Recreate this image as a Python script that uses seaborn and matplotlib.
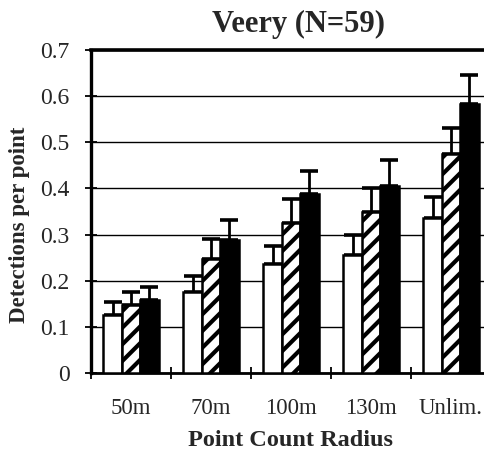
import matplotlib
matplotlib.use("Agg")
import matplotlib.pyplot as plt
import numpy as np
import pandas as pd
import seaborn as sns
from matplotlib.ticker import FixedLocator

# Detections per point by count radius, three count periods
radii = ["50m", "70m", "100m", "130m", "Unlim."]
periods = ["Period 1", "Period 2", "Period 3"]
means_p1 = [0.125, 0.176, 0.236, 0.255, 0.336]
means_p2 = [0.147, 0.246, 0.325, 0.348, 0.475]
means_p3 = [0.158, 0.288, 0.387, 0.405, 0.584]
se_p1 = [0.029, 0.034, 0.039, 0.044, 0.046]
se_p2 = [0.029, 0.045, 0.053, 0.052, 0.057]
se_p3 = [0.029, 0.043, 0.051, 0.056, 0.061]
y_ticks = [0, 0.1, 0.2, 0.3, 0.4, 0.5, 0.6, 0.7]
y_tick_labels = ["0", "0.1", "0.2", "0.3", "0.4", "0.5", "0.6", "0.7"]

df = pd.DataFrame({
    "radius": radii * 3,
    "period": sum([[p] * len(radii) for p in periods], []),
    "mean": means_p1 + means_p2 + means_p3,
    "se": se_p1 + se_p2 + se_p3,
})

sns.set_theme(style="white")
plt.rcParams["font.family"] = ["Liberation Serif", "DejaVu Serif"]
plt.rcParams["hatch.linewidth"] = 3.0

fig = plt.figure(figsize=(4.84, 4.51), dpi=100)
ax = fig.add_axes([91 / 484, 78 / 451, 400 / 484, 323 / 451])

sns.barplot(data=df, x="radius", y="mean", hue="period", order=radii,
            hue_order=periods, palette=["white", "white", "black"],
            width=0.69, errorbar=None, legend=False, ax=ax,
            edgecolor="black", linewidth=1.8, zorder=3)

# bars are ordered by hue then category
n = len(radii)
for i, bar in enumerate(ax.patches[:3 * n]):
    hue_idx = i // n
    cat_idx = i % n
    if hue_idx == 1:
        bar.set_hatch("//")
    m = df["mean"].iloc[hue_idx * n + cat_idx]
    s = df["se"].iloc[hue_idx * n + cat_idx]
    xc = bar.get_x() + bar.get_width() / 2
    ax.errorbar([xc], [m], yerr=[[0], [s]], fmt="none", ecolor="black",
                elinewidth=2.0, capsize=6.5, capthick=2.6, zorder=2)

ax.set_xlim(-0.5, 4.5)
ax.set_ylim(0, 0.7)
ax.set_yticks(y_ticks)
ax.set_yticklabels(y_tick_labels)
ax.yaxis.grid(True, color="black", linewidth=1.0, zorder=0)
ax.set_axisbelow(True)

ax.xaxis.set_minor_locator(FixedLocator(np.arange(-0.5, 5.0, 1.0)))
ax.tick_params(axis="x", which="major", length=0, pad=18, labelsize=16.5)
ax.tick_params(axis="x", which="minor", direction="inout", length=9,
               width=1.3, color="black", bottom=True)
ax.tick_params(axis="y", which="major", direction="inout", length=9,
               width=1.3, color="black", left=True, pad=11, labelsize=17)

for side in ["left", "bottom", "top"]:
    ax.spines[side].set_visible(True)
    ax.spines[side].set_color("black")
ax.spines["left"].set_linewidth(2.4)
ax.spines["bottom"].set_linewidth(2.0)
ax.spines["top"].set_linewidth(2.6)
ax.spines["right"].set_visible(False)

ax.set_xlabel("")
ax.set_ylabel("")
fig.text(290 / 484, 1 - 440 / 451, "Point Count Radius", ha="center",
         va="center", fontsize=17.5, fontweight="bold")
fig.text(20 / 484, 1 - 225 / 451, "Detections per point", ha="center",
         va="center", rotation=90, fontsize=16.5, fontweight="bold")
fig.text(299 / 484, 1 - 24 / 451, "Veery (N=59)", ha="center",
         va="center", fontsize=22, fontweight="bold")

fig.savefig("out.png", dpi=100)
